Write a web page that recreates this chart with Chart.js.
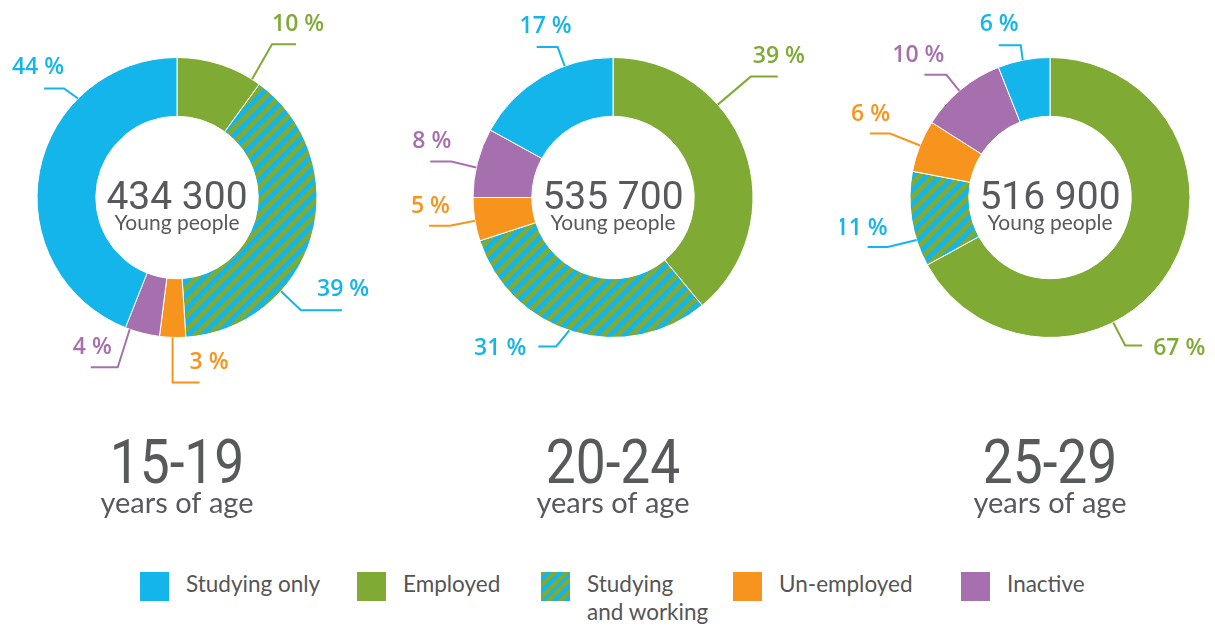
<!DOCTYPE html>
<html>
<head>
<meta charset="utf-8">
<script src="https://cdn.jsdelivr.net/npm/chart.js@4/dist/chart.umd.min.js"></script>
<style>
  body { margin: 0; background: #fff; }
  #wrap { position: relative; width: 1215px; height: 627px; overflow: hidden; background: #fff; }
  #wrap canvas { position: absolute; top: 0; }
  .legend-item { position: absolute; top: 572px; }
  .legend-item .box { position: absolute; left: 0; top: 0; width: 29px; height: 29px; }
  .legend-item .txt { position: absolute; left: 46px; top: -2px; font: 22.5px Lato, sans-serif; line-height: 28px; color: #555; white-space: nowrap; }
</style>
</head>
<body>
<div id="wrap">
  <canvas id="age0" width="420" height="530" style="left:-33px"></canvas>
  <canvas id="age1" width="420" height="530" style="left:403px"></canvas>
  <canvas id="age2" width="420" height="530" style="left:840px"></canvas>
  <div id="legend"></div>
</div>
<script>
// slice order = drawing order, clockwise from 12 o'clock
const categories = ['Employed', 'Studying and working', 'Un-employed', 'Inactive', 'Studying only'];
const ageGroups = ['15-19', '20-24', '25-29'];
const totals = [434300, 535700, 516900];
const share1519 = [10, 39, 3, 4, 44];
const share2024 = [39, 31, 5, 8, 17];
const share2529 = [67, 11, 6, 10, 6];
const legendOrder = [4, 0, 1, 2, 3];
const legendLabels = ['Studying only', 'Employed', 'Studying<br>and working', 'Un-employed', 'Inactive'];

const BLUE = '#14b5ea', GREEN = '#7fab35', ORANGE = '#f7941d', PURPLE = '#a670ae', GREY = '#58595b';

// diagonal blue/green stripes for "studying and working"
const T = 14;
const tile = document.createElement('canvas');
tile.width = T; tile.height = T;
const tctx = tile.getContext('2d');
tctx.fillStyle = BLUE;
tctx.fillRect(0, 0, T, T);
tctx.fillStyle = GREEN;
tctx.beginPath(); tctx.moveTo(0, 0); tctx.lineTo(T / 2, 0); tctx.lineTo(0, T / 2); tctx.closePath(); tctx.fill();
tctx.beginPath(); tctx.moveTo(T, 0); tctx.lineTo(0, T); tctx.lineTo(T / 2, T); tctx.lineTo(T, T / 2); tctx.closePath(); tctx.fill();
const stripes = tctx.createPattern(tile, 'repeat');

const sliceColors = [GREEN, stripes, ORANGE, PURPLE, BLUE];
const labelColors = [GREEN, BLUE, ORANGE, PURPLE, BLUE];

// where each callout leaves its slice and how the leader line bends
const callouts = [
  [
    { at: .9, ex: 20, ey: -35, run: 24, tx: 0, ty: -21, align: 'left' },
    { at: .684, ex: 20, ey: 19, run: 41, tx: 16, ty: -22, align: 'left' },
    { at: .5, ex: 0, ey: 45, run: 27, tx: 17, ty: -21, align: 'left' },
    { at: .87, ex: -12, ey: 38, run: -27, tx: -6, ty: -21, align: 'right' },
    { at: .716, ex: -14, ey: -10, run: -20, tx: 0, ty: -22, align: 'right' }
  ],
  [
    { at: .345, ex: 33, ey: -28, run: 27, tx: 2, ty: -22, align: 'left' },
    { at: .518, ex: -13, ey: 16, run: -18, tx: -30, ty: 1, align: 'right' },
    { at: .47, ex: -25, ey: 5, run: -21, tx: 0, ty: -21, align: 'right' },
    { at: .43, ex: -25, ey: -6, run: -21, tx: 0, ty: -21, align: 'right' },
    { at: .67, ex: -7, ey: -19, run: -21, tx: 14, ty: -22, align: 'right' }
  ],
  [
    { at: .635, ex: 12, ey: 23, run: 17, tx: 28, ty: 2, align: 'left' },
    { at: .28, ex: -29, ey: 7, run: -20, tx: 0, ty: -20, align: 'right' },
    { at: .51, ex: -30, ey: -12, run: -20, tx: 0, ty: -20, align: 'right' },
    { at: .48, ex: -13, ey: -16, run: -22, tx: -2, ty: -21, align: 'right' },
    { at: .48, ex: -2, ey: -15, run: -22, tx: -2, ty: -22, align: 'right' }
  ]
];

function fmt(n) {
  return String(n).replace(/\B(?=(\d{3})+(?!\d))/g, ' ');
}

const calloutPlugin = {
  id: 'callouts',
  afterDatasetsDraw(chart, args, opts) {
    const ctx = chart.ctx;
    const values = chart.data.datasets[0].data;
    chart.getDatasetMeta(0).data.forEach((arc, i) => {
      const c = opts.layout[i];
      const a = arc.startAngle + c.at * (arc.endAngle - arc.startAngle);
      const x0 = arc.x + Math.cos(a) * arc.outerRadius;
      const y0 = arc.y + Math.sin(a) * arc.outerRadius;
      const x1 = x0 + c.ex, y1 = y0 + c.ey;
      ctx.save();
      ctx.strokeStyle = labelColors[i];
      ctx.lineWidth = 2;
      ctx.beginPath();
      ctx.moveTo(x0, y0);
      ctx.lineTo(x1, y1);
      ctx.lineTo(x1 + c.run, y1);
      ctx.stroke();
      ctx.fillStyle = labelColors[i];
      ctx.font = '600 23px "Open Sans"';
      ctx.textAlign = c.align;
      ctx.textBaseline = 'alphabetic';
      ctx.fillText(values[i] + ' %', x1 + c.tx, y1 + c.ty + 8);
      ctx.restore();
    });
  }
};

const centerPlugin = {
  id: 'centerText',
  afterDraw(chart, args, opts) {
    const ctx = chart.ctx;
    const arc = chart.getDatasetMeta(0).data[0];
    const cx = arc.x, cy = arc.y;
    ctx.save();
    ctx.fillStyle = GREY;
    ctx.textAlign = 'center';
    ctx.textBaseline = 'alphabetic';
    ctx.font = '39px Roboto';
    ctx.fillText(fmt(opts.total), cx, cy + 11);
    ctx.font = '21px Lato';
    ctx.fillText('Young people', cx, cy + 32);
    ctx.font = '29px Lato';
    ctx.fillText('years of age', cx, 513);
    // condensed age range
    ctx.translate(cx, 483);
    ctx.scale(0.86, 1);
    ctx.font = '62px Roboto';
    ctx.fillText(opts.age, 0, 0);
    ctx.restore();
  }
};

[share1519, share2024, share2529].forEach((shares, k) => {
  new Chart(document.getElementById('age' + k), {
    type: 'doughnut',
    data: {
      labels: categories,
      datasets: [{ data: shares, backgroundColor: sliceColors, borderColor: '#fff', borderWidth: 1 }]
    },
    options: {
      responsive: false,
      animation: false,
      cutout: '58%',
      layout: { padding: { top: 57, bottom: 192, left: 69.5, right: 69.5 } },
      plugins: {
        legend: { display: false },
        tooltip: { enabled: false },
        callouts: { layout: callouts[k] },
        centerText: { total: totals[k], age: ageGroups[k] }
      }
    },
    plugins: [calloutPlugin, centerPlugin]
  });
});

// legend
const legendX = [140, 357, 541, 733, 961];
document.getElementById('legend').innerHTML = legendOrder.map((idx, n) => {
  const c = idx === 1
    ? 'background: repeating-linear-gradient(135deg, ' + GREEN + ' 0 4px, ' + BLUE + ' 4px 8px)'
    : 'background:' + sliceColors[idx];
  return `<div class="legend-item" style="left:${legendX[n]}px"><div class="box" style="${c}"></div><div class="txt">${legendLabels[n]}</div></div>`;
}).join('');
</script>
</body>
</html>
